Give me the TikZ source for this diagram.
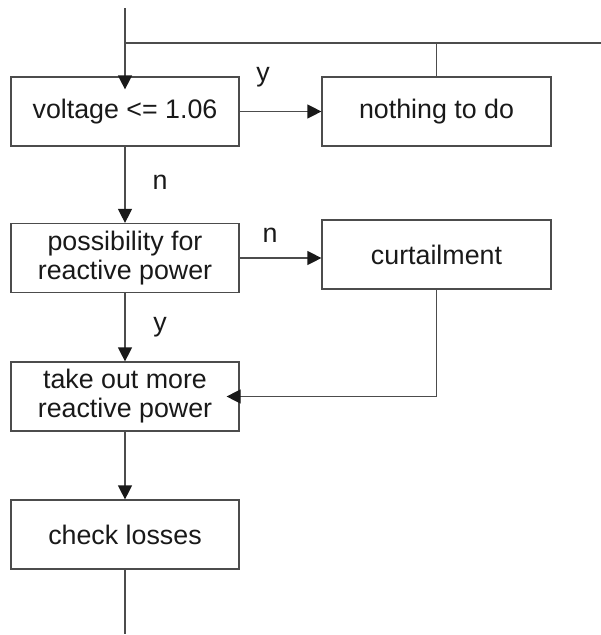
\documentclass[tikz,border=0pt]{standalone}
\usepackage{fontspec}
\setmainfont{Liberation Sans}
\usetikzlibrary{arrows.meta}

\begin{document}
\begin{tikzpicture}[x=1pt,y=-1pt]
\tikzstyle{block}=[anchor=center,minimum width=228pt,minimum height=69pt,inner sep=0pt,rectangle,draw=black!70,line width=1.2pt,text=black!90,align=center,font=\fontsize{26.8}{29}\selectfont]
\tikzstyle{wire}=[draw=black!70,line width=1.2pt]
\tikzstyle{arrow}=[wire,-{Triangle[length=14pt,width=14pt,black!90]}]
\tikzstyle{answer}=[anchor=center,inner sep=0pt,text=black!90,font=\fontsize{26.8}{29}\selectfont]

\useasboundingbox (0,0) rectangle (601,635);

% main column
\node [block] at (125,111.5) (volt)    {voltage <= 1.06};
\node [block] at (125,258)   (reactq)  {possibility for\\reactive power};
\node [block] at (125,396.5) (takeout) {take out more\\reactive power};
\node [block] at (125,534.5) (losses)  {check losses};

% side column
\node [block,minimum width=229pt] at (436.5,111.5) (nothing) {nothing to do};
\node [block,minimum width=229pt] at (436.5,254.5) (curtail) {curtailment};

\coordinate (start) at (125,8);
\coordinate (bus)   at (125,43);
\coordinate (busend) at (601,43);
\coordinate (stop)  at (125,634);

\path [arrow,shorten >=-13pt] (start) -- (volt.north);
\path [wire] (bus) -- (busend);
\path [wire] (nothing.north) -- (nothing.north |- bus);

\path [arrow] (volt) -- (nothing);
\path [arrow] (volt) -- (reactq);
\path [arrow] (reactq.east) -- (reactq.east -| curtail.west);
\path [arrow] (reactq) -- (takeout);
\path [arrow,shorten >=-13pt] (curtail.south) |- (takeout.east);
\path [arrow] (takeout) -- (losses);
\path [wire] (losses) -- (stop);

\node [answer] at (263,77)  (ay1) {y};
\node [answer] at (160,182) (an1) {n};
\node [answer] at (270,235) (an2) {n};
\node [answer] at (160,327) (ay2) {y};
\end{tikzpicture}
\end{document}
